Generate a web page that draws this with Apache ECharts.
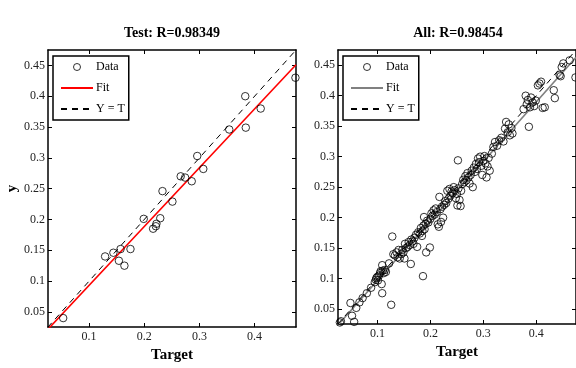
<!DOCTYPE html>
<html>
<head>
<meta charset="utf-8">
<script src="https://cdn.jsdelivr.net/npm/echarts@6/dist/echarts.min.js"></script>
<style>
  html, body { margin: 0; padding: 0; background: #fff; }
  #container { width: 576px; height: 368px; }
</style>
</head>
<body>
<div id="container"></div>
<script>
// [target, output] pairs
const testPoints = [
  [0.053, 0.040], [0.129, 0.140], [0.144, 0.146], [0.154, 0.133], [0.157, 0.152],
  [0.164, 0.125], [0.175, 0.152], [0.199, 0.201], [0.216, 0.185], [0.221, 0.189],
  [0.222, 0.193], [0.229, 0.202], [0.233, 0.246], [0.251, 0.229], [0.266, 0.270],
  [0.274, 0.268], [0.286, 0.262], [0.296, 0.303], [0.307, 0.282], [0.354, 0.346],
  [0.383, 0.400], [0.384, 0.349], [0.411, 0.380], [0.474, 0.430]
]

const allPoints = [
  [0.026, 0.023], [0.029, 0.028], [0.031, 0.030], [0.049, 0.060], [0.052, 0.039],
  [0.056, 0.029], [0.060, 0.052], [0.066, 0.061], [0.072, 0.068], [0.080, 0.076],
  [0.088, 0.085], [0.095, 0.094], [0.097, 0.098], [0.098, 0.101], [0.100, 0.103],
  [0.101, 0.097], [0.103, 0.105], [0.105, 0.109], [0.106, 0.112], [0.108, 0.091],
  [0.109, 0.076], [0.109, 0.122], [0.110, 0.113], [0.112, 0.109], [0.114, 0.114],
  [0.116, 0.111], [0.122, 0.125], [0.126, 0.057], [0.128, 0.169], [0.130, 0.140],
  [0.133, 0.138], [0.136, 0.143], [0.138, 0.135], [0.140, 0.147], [0.142, 0.133],
  [0.145, 0.140], [0.147, 0.147], [0.149, 0.143], [0.151, 0.133], [0.152, 0.157],
  [0.154, 0.150], [0.157, 0.152], [0.159, 0.160], [0.161, 0.155], [0.163, 0.124],
  [0.164, 0.164], [0.166, 0.161], [0.168, 0.157], [0.170, 0.167], [0.173, 0.172],
  [0.175, 0.152], [0.177, 0.176], [0.180, 0.174], [0.182, 0.183], [0.184, 0.170],
  [0.185, 0.178], [0.186, 0.104], [0.187, 0.187], [0.188, 0.201], [0.189, 0.181],
  [0.191, 0.190], [0.192, 0.143], [0.194, 0.195], [0.196, 0.192], [0.199, 0.151],
  [0.200, 0.198], [0.202, 0.207], [0.204, 0.203], [0.206, 0.212], [0.208, 0.205],
  [0.210, 0.215], [0.212, 0.209], [0.214, 0.189], [0.216, 0.185], [0.217, 0.234],
  [0.219, 0.214], [0.220, 0.193], [0.222, 0.218], [0.224, 0.200], [0.226, 0.221],
  [0.228, 0.227], [0.230, 0.224], [0.232, 0.244], [0.234, 0.231], [0.236, 0.247],
  [0.238, 0.236], [0.240, 0.243], [0.242, 0.240], [0.244, 0.250], [0.246, 0.245],
  [0.248, 0.232], [0.250, 0.239], [0.251, 0.220], [0.252, 0.294], [0.253, 0.248],
  [0.255, 0.229], [0.257, 0.219], [0.258, 0.244], [0.260, 0.255], [0.262, 0.262],
  [0.264, 0.258], [0.266, 0.268], [0.268, 0.261], [0.270, 0.273], [0.272, 0.266],
  [0.274, 0.256], [0.276, 0.270], [0.278, 0.277], [0.280, 0.250], [0.282, 0.282],
  [0.284, 0.275], [0.286, 0.288], [0.288, 0.280], [0.290, 0.297], [0.292, 0.291],
  [0.294, 0.300], [0.296, 0.285], [0.298, 0.270], [0.300, 0.293], [0.302, 0.301],
  [0.304, 0.289], [0.306, 0.266], [0.308, 0.284], [0.310, 0.298], [0.312, 0.277],
  [0.316, 0.305], [0.319, 0.316], [0.322, 0.324], [0.326, 0.318], [0.330, 0.327],
  [0.334, 0.331], [0.338, 0.325], [0.341, 0.346], [0.343, 0.357], [0.346, 0.340],
  [0.348, 0.353], [0.350, 0.335], [0.353, 0.347], [0.355, 0.338], [0.376, 0.378],
  [0.380, 0.400], [0.382, 0.386], [0.384, 0.393], [0.386, 0.349], [0.388, 0.381],
  [0.390, 0.397], [0.393, 0.389], [0.396, 0.383], [0.399, 0.392], [0.403, 0.417],
  [0.406, 0.420], [0.409, 0.423], [0.412, 0.380], [0.416, 0.381], [0.433, 0.409],
  [0.435, 0.396], [0.444, 0.434], [0.446, 0.432], [0.448, 0.447], [0.451, 0.453],
  [0.463, 0.458], [0.474, 0.430]
]

// fit line end points
const testFit = [[0.025, 0.0215], [0.475, 0.451]]
const allFit = [[0.025, 0.0235], [0.475, 0.463]]
const identity = [[0.025, 0.025], [0.475, 0.475]]

const xTicks = [0.1, 0.2, 0.3, 0.4]
const yTicks = [0.05, 0.1, 0.15, 0.2, 0.25, 0.3, 0.35, 0.4, 0.45]

const axisMin = 0.0255
const axisMax = 0.475
const font = 'Liberation Serif'

const dom = document.getElementById('container')
const myChart = echarts.init(dom, null, { renderer: 'canvas' })

function xAxes(grid) {
  const base = {
    type: 'value',
    gridIndex: grid,
    min: axisMin,
    max: axisMax,
    splitLine: { show: false },
    axisLine: { show: true, onZero: false, lineStyle: { color: '#000', width: 1.5 } },
    axisTick: { inside: true, length: 4, customValues: xTicks, lineStyle: { color: '#000' } }
  }
  return [
    {
      ...base,
      position: 'bottom',
      name: 'Target',
      nameLocation: 'middle',
      nameGap: 21,
      nameTextStyle: { fontFamily: font, fontWeight: 'bold', fontSize: 15, color: '#000' },
      axisLabel: { customValues: xTicks, margin: 4, fontFamily: font, fontSize: 12, color: '#222' }
    },
    { ...base, position: 'top', axisLabel: { show: false } }
  ]
}

function yAxes(grid, withName) {
  const base = {
    type: 'value',
    gridIndex: grid,
    min: axisMin,
    max: axisMax,
    splitLine: { show: false },
    axisLine: { show: true, onZero: false, lineStyle: { color: '#000', width: 1.5 } },
    axisTick: { inside: true, length: 4, customValues: yTicks, lineStyle: { color: '#000' } }
  }
  return [
    {
      ...base,
      position: 'left',
      name: withName ? 'y' : '',
      nameLocation: 'middle',
      nameGap: 27,
      nameTextStyle: { fontFamily: font, fontWeight: 'bold', fontSize: 15, color: '#000' },
      axisLabel: { customValues: yTicks, margin: 3, fontFamily: font, fontSize: 12, color: '#222' }
    },
    { ...base, position: 'right', axisLabel: { show: false } }
  ]
}

const hideSymbol = { opacity: 0 }

function legendAt(left, names) {
  return {
    orient: 'vertical',
    left: left,
    top: 56,
    data: [
      { name: names[0], itemStyle: { borderWidth: 1 } },
      { name: names[1], itemStyle: hideSymbol },
      { name: names[2], itemStyle: hideSymbol }
    ],
    padding: [5, 4, 5, 7],
    itemWidth: 32,
    itemHeight: 7,
    itemGap: 9,
    borderColor: '#000',
    borderWidth: 1.5,
    backgroundColor: '#fff',
    selectedMode: false,
    formatter: (name) => name.trim(),
    textStyle: { fontFamily: font, fontSize: 12, color: '#000', padding: [0, 0, 0, -2] }
  }
}

const scatterStyle = {
  type: 'scatter',
  symbol: 'circle',
  symbolSize: 7.5,
  itemStyle: { color: 'rgba(0,0,0,0)', borderColor: '#000', borderWidth: 1 },
  z: 3
}

const option = {
  backgroundColor: '#fff',
  animation: false,
  title: [
    {
      text: 'Test: R=0.98349',
      left: 172,
      top: 26,
      textAlign: 'center',
      padding: 0,
      textStyle: { fontFamily: font, fontWeight: 'bold', fontSize: 14, color: '#000' }
    },
    {
      text: 'All: R=0.98454',
      left: 458,
      top: 26,
      textAlign: 'center',
      padding: 0,
      textStyle: { fontFamily: font, fontWeight: 'bold', fontSize: 14, color: '#000' }
    }
  ],
  legend: [
    legendAt(53, ['Data', 'Fit', 'Y = T']),
    legendAt(343, ['Data ', 'Fit ', 'Y = T '])
  ],
  grid: [
    { left: 48, top: 50, width: 248, height: 278 },
    { left: 338, top: 50, width: 244, height: 274 }
  ],
  xAxis: [...xAxes(0), ...xAxes(1)],
  yAxis: [...yAxes(0, true), ...yAxes(1, false)],
  series: [
    {
      ...scatterStyle,
      name: 'Data',
      xAxisIndex: 0,
      yAxisIndex: 0,
      data: testPoints
    },
    {
      name: 'Fit',
      type: 'line',
      xAxisIndex: 0,
      yAxisIndex: 0,
      symbol: 'none',
      clip: true,
      lineStyle: { color: '#ff0000', width: 1.6 },
      itemStyle: { color: '#ff0000' },
      data: testFit
    },
    {
      name: 'Y = T',
      type: 'line',
      xAxisIndex: 0,
      yAxisIndex: 0,
      symbol: 'none',
      clip: true,
      lineStyle: { color: '#000', width: 1, type: [6, 5] },
      itemStyle: { color: '#000' },
      data: identity
    },
    {
      ...scatterStyle,
      name: 'Data ',
      xAxisIndex: 2,
      yAxisIndex: 2,
      data: allPoints
    },
    {
      name: 'Fit ',
      type: 'line',
      xAxisIndex: 2,
      yAxisIndex: 2,
      symbol: 'none',
      clip: true,
      lineStyle: { color: '#808080', width: 1.6 },
      itemStyle: { color: '#808080' },
      data: allFit
    },
    {
      name: 'Y = T ',
      type: 'line',
      xAxisIndex: 2,
      yAxisIndex: 2,
      symbol: 'none',
      clip: true,
      lineStyle: { color: '#000', width: 1, type: [6, 5] },
      itemStyle: { color: '#000' },
      data: identity
    }
  ]
}

myChart.setOption(option)
</script>
</body>
</html>
